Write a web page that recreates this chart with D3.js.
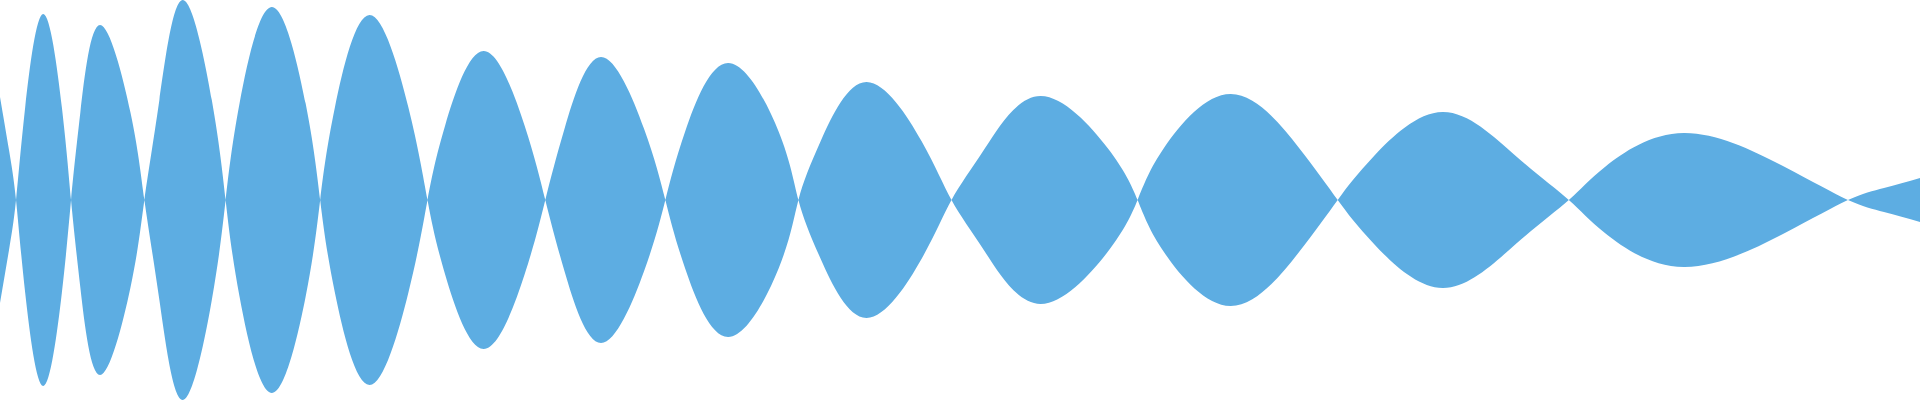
<!DOCTYPE html>
<html>
<head>
<meta charset="utf-8">
<script src="https://cdn.jsdelivr.net/npm/d3@7"></script>
<style>
  html, body { margin: 0; padding: 0; background: #fff; overflow: hidden; }
  svg { display: block; }
</style>
</head>
<body>
<div id="chart"></div>
<script>
// sample positions (time) and signed signal values:
// zero crossings, half-height points and peaks of each lobe
const time = [
  0, 9, 16,
  25.2, 43.3, 61.8, 71,
  80.3, 100, 130.4, 144.3,
  159.3, 182.7, 211.7, 225.5,
  239.4, 271.7, 305.5, 320,
  334.7, 369.3, 408.2, 427.3,
  444.9, 483.3, 524.3, 545,
  564.3, 600.7, 643.6, 665,
  684.8, 727.7, 778.2, 798,
  820.3, 866, 921, 951,
  984.6, 1040, 1107, 1137,
  1164, 1230, 1297.6, 1337,
  1373.3, 1442, 1515, 1568,
  1604.7, 1683, 1783, 1847,
  1883, 1919
]
const amplitude = [
  -103, -50, 0,
  93, 186, 93, 0,
  -87.5, -175, -87.5, 0,
  100, 200, 100, 0,
  -96.5, -193, -96.5, 0,
  92.5, 185, 92.5, 0,
  -74.5, -149, -74.5, 0,
  71.5, 143, 71.5, 0,
  -68.5, -137, -68.5, 0,
  59, 118, 59, 0,
  -52, -104, -52, 0,
  53, 106, 53, 0,
  -44, -88, -44, 0,
  33.5, 67, 33.5, 0,
  -12, -22
]

const w = 1920,
  h = 400
const color = '#5dade2'

let data = time.map((t, i) => ({ t: t, v: amplitude[i] }))

let x = d3.scaleLinear().domain([0, 1919]).range([0, w])
let y = d3.scaleLinear().domain([-200, 200]).range([h, 0])

// mirrored waveform: top edge is the signal, bottom edge its negation
let area = d3.area()
  .x(d => x(d.t))
  .y0(d => y(-d.v))
  .y1(d => y(d.v))
  .curve(d3.curveNatural)

let svg = d3.select('#chart')
  .append('svg')
  .attr('width', w)
  .attr('height', h)

svg.append('path')
  .datum(data)
  .attr('d', area)
  .attr('fill', color)
</script>
</body>
</html>
